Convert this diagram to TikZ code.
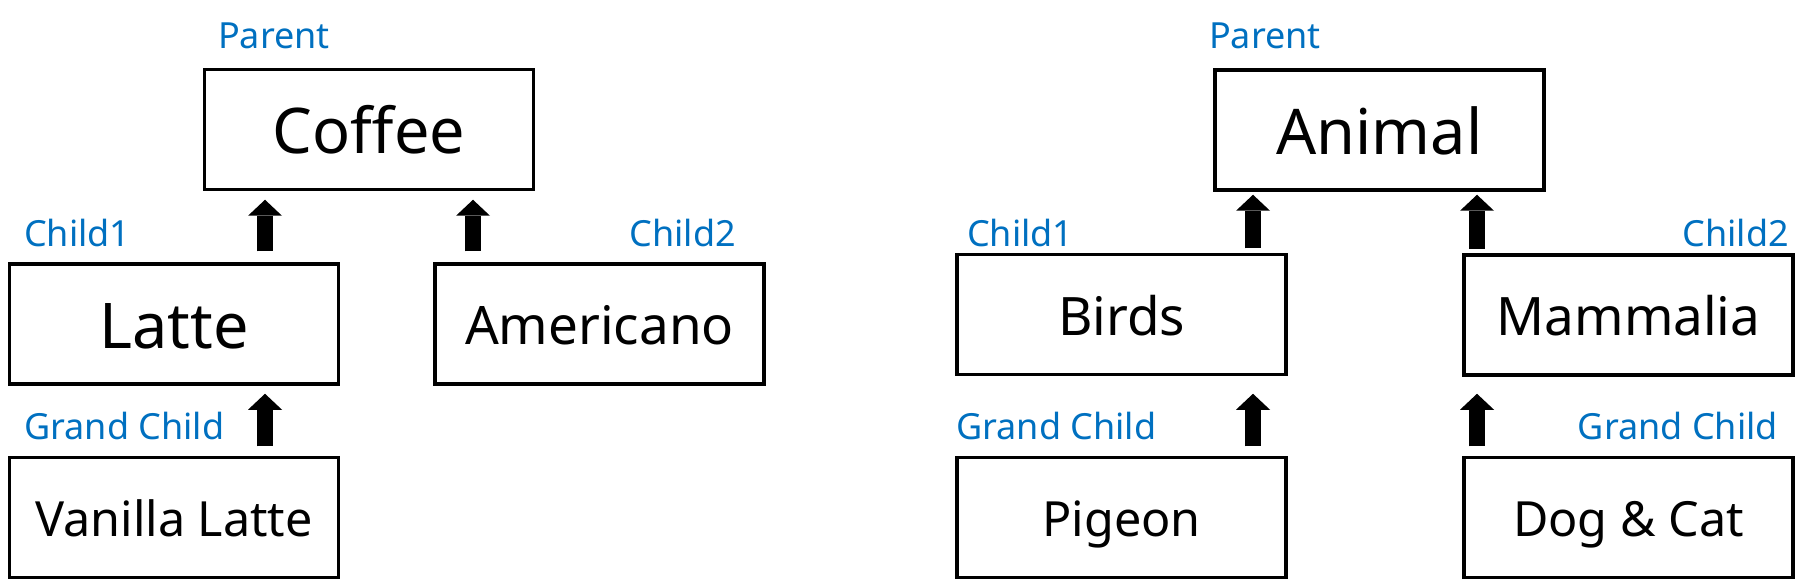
\documentclass[tikz,border=0pt]{standalone}
\usepackage{fontspec}
\setmainfont{Noto Sans}
\usetikzlibrary{arrows.meta}
\definecolor{tagblue}{RGB}{0,112,192}

\begin{document}
\begin{tikzpicture}[x=1pt,y=-1pt,
    box/.style={draw, line width=3.5pt, minimum width=329pt, minimum height=120pt, inner sep=0pt, text depth=0pt},
    bigbox/.style={box, font=\fontsize{63}{70}\selectfont, text height=49pt},
    midbox/.style={box, font=\fontsize{53}{60}\selectfont, text height=41pt},
    smallbox/.style={box, font=\fontsize{48.5}{56}\selectfont, text height=38pt},
    tag/.style={text=tagblue, font=\fontsize{36}{42}\selectfont, inner sep=0pt},
    uparrow/.style={line width=16pt, -{Triangle[width=34pt,length=16pt,line width=0pt]}}]
    \useasboundingbox (0,0) rectangle (1820,580);

    \node [bigbox] (coffee) at (369,129.5) {Coffee};
    \node [bigbox] (latte) at (174,324) {Latte};
    \node [midbox] (americano) at (599.5,324) {Americano};
    \node [smallbox] (vanilla) at (174,517.5) {Vanilla Latte};

    \node [bigbox] (animal) at (1379.5,130) {Animal};
    \node [midbox] (birds) at (1121.5,314.5) {Birds};
    \node [midbox] (mammalia) at (1628.5,315) {Mammalia};
    \node [smallbox] (pigeon) at (1121.5,517.5) {Pigeon};
    \node [smallbox] (dogcat) at (1628.5,517.5) {Dog \& Cat};

    \node [tag, anchor=base west] (coffeetag) at (218,49) {Parent};
    \node [tag, anchor=base west] (lattetag) at (24,247) {Child1};
    \node [tag, anchor=base east] (americanotag) at (736,247) {Child2};
    \node [tag, anchor=base west] (vanillatag) at (24,439) {Grand Child};

    \node [tag, anchor=base west] (animaltag) at (1209,49) {Parent};
    \node [tag, anchor=base west] (birdstag) at (967,247) {Child1};
    \node [tag, anchor=base east] (mammaliatag) at (1789,247) {Child2};
    \node [tag, anchor=base west] (pigeontag) at (956,439) {Grand Child};
    \node [tag, anchor=base east] (dogcattag) at (1778,439) {Grand Child};

    \draw [uparrow, shorten <=11pt, shorten >=8.5pt] ([xshift=91pt]latte.north) -- ([xshift=-104pt]coffee.south);
    \draw [uparrow, shorten <=11pt, shorten >=8.5pt] ([xshift=-126.5pt]americano.north) -- ([xshift=104pt]coffee.south);
    \draw [uparrow, shorten <=9.5pt, shorten >=8pt] ([xshift=91pt]vanilla.north) -- ([xshift=91pt]latte.south);

    \draw [uparrow, shorten <=4.5pt, shorten >=3pt] ([xshift=131.5pt]birds.north) -- ([xshift=-126.5pt]animal.south);
    \draw [uparrow, shorten <=4.5pt, shorten >=3pt] ([xshift=-151.5pt]mammalia.north) -- ([xshift=97.5pt]animal.south);
    \draw [uparrow, shorten <=9.5pt, shorten >=17.5pt] ([xshift=131.5pt]pigeon.north) -- ([xshift=131.5pt]birds.south);
    \draw [uparrow, shorten <=9.5pt, shorten >=17pt] ([xshift=-151.5pt]dogcat.north) -- ([xshift=-151.5pt]mammalia.south);
\end{tikzpicture}
\end{document}
